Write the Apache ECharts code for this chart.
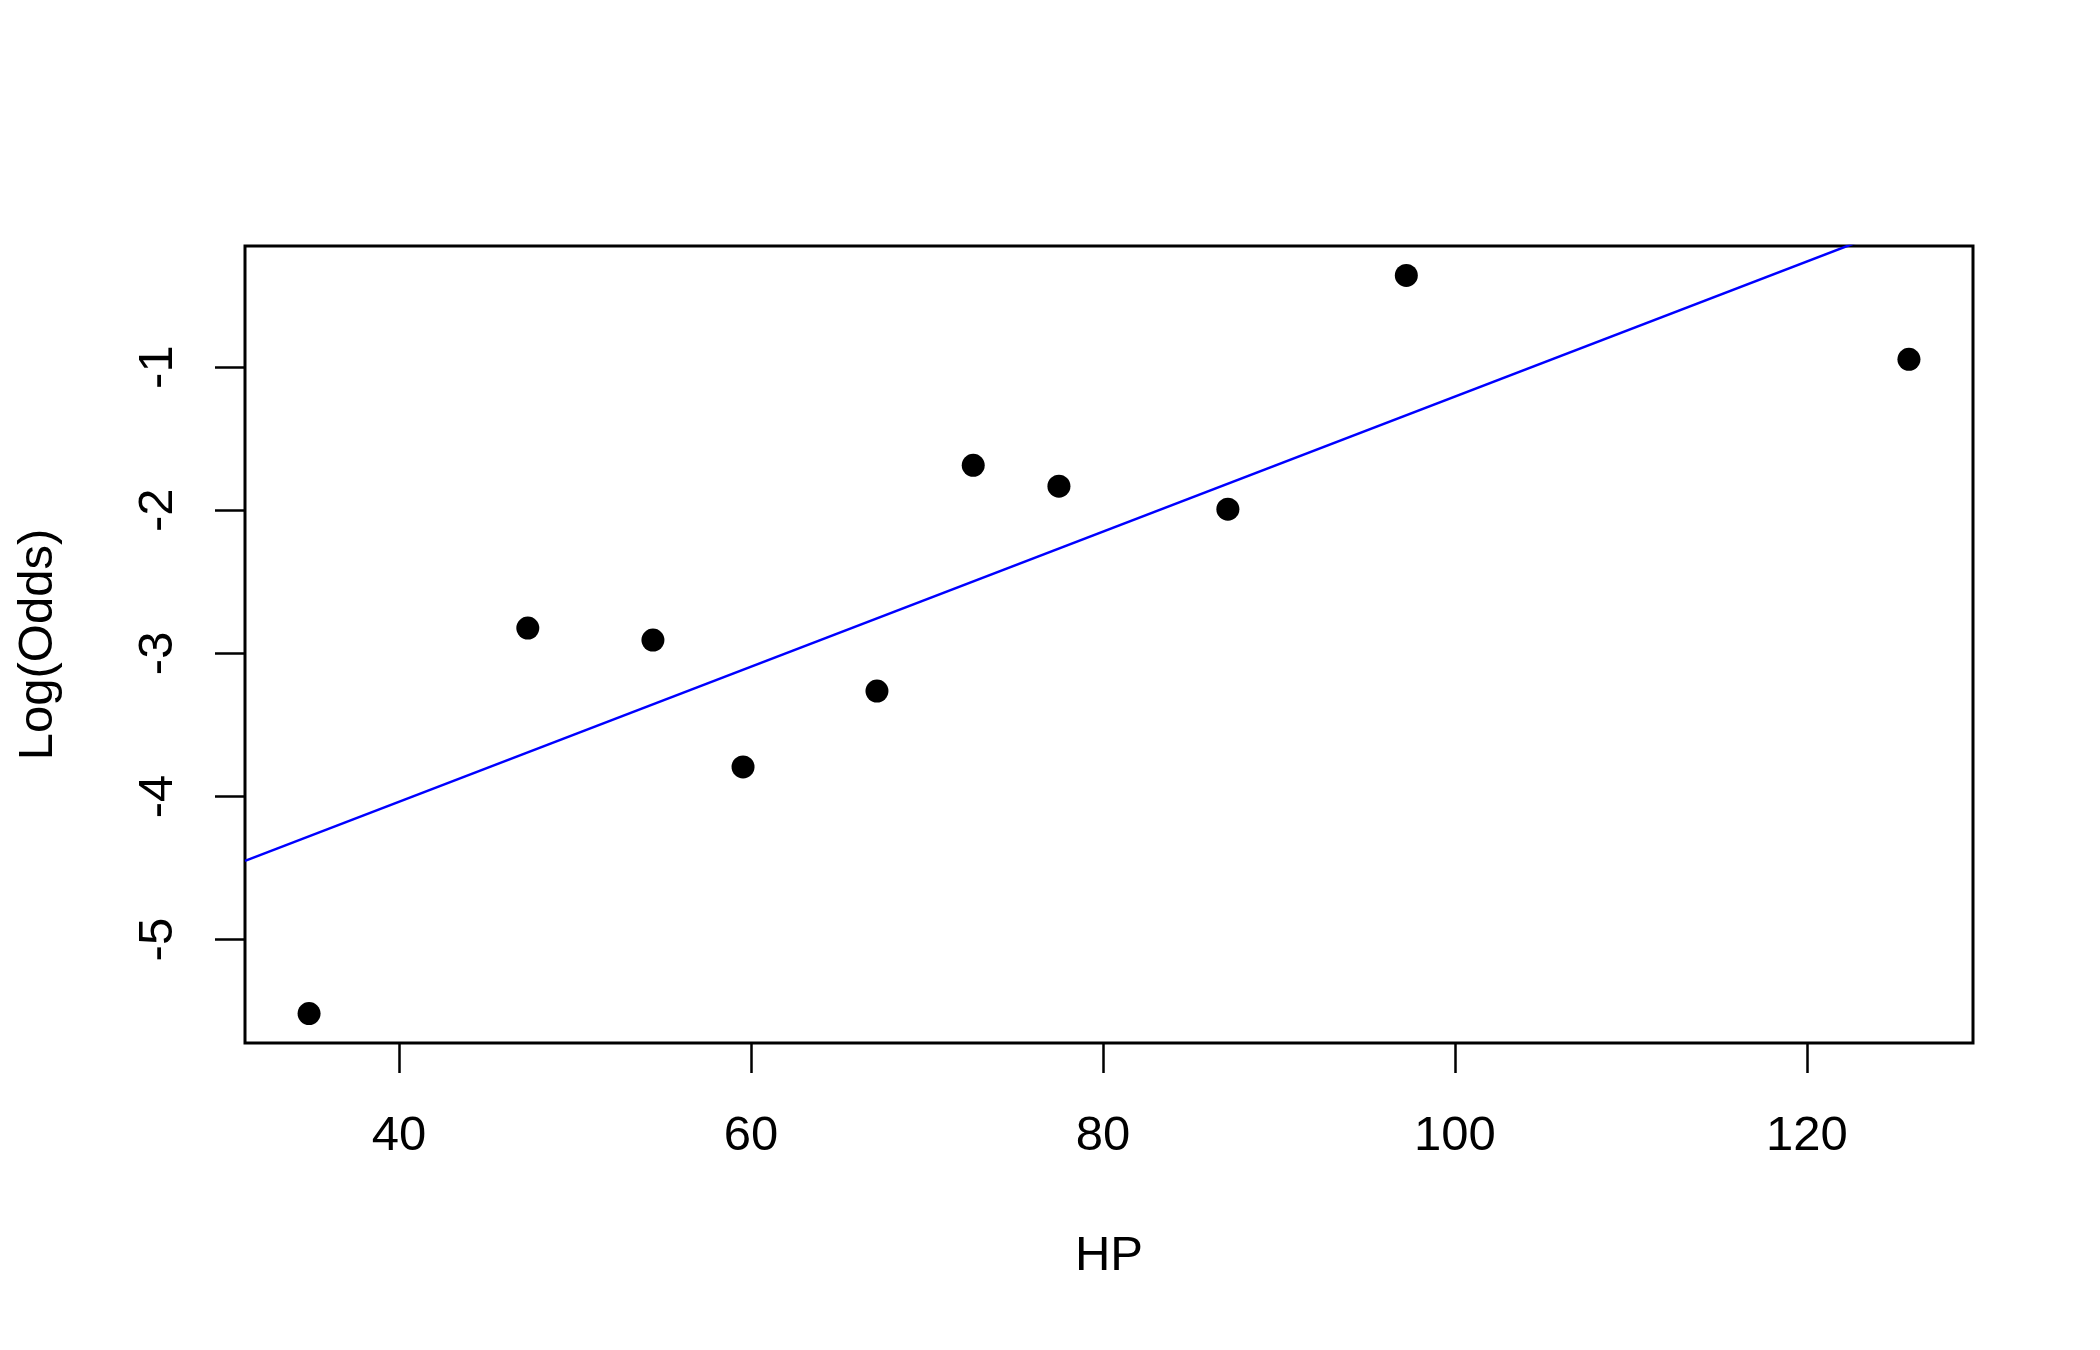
<!DOCTYPE html>
<html>
<head>
<meta charset="utf-8">
<script src="https://cdn.jsdelivr.net/npm/echarts@6/dist/echarts.min.js"></script>
<style>
html,body{margin:0;padding:0;background:#fff;}
#chart{width:2100px;height:1350px;}
</style>
</head>
<body>
<div id="chart"></div>
<script>
// Data
const hp = [34.89, 47.32, 54.43, 59.55, 67.16, 72.63, 77.5, 87.1, 97.24, 125.8];
const logOdds = [-5.516, -2.823, -2.907, -3.793, -3.263, -1.686, -1.832, -1.993, -0.360, -0.946];
// fitted line endpoints (x, y)
const fitX = [31.25, 129.44];
const fitY = [-4.45, 0.183];
const xTicks = [40, 60, 80, 100, 120];
const yTicks = [-5, -4, -3, -2, -1];
const xName = 'HP';
const yName = 'Log(Odds)';

const points = hp.map((x, i) => [x, logOdds[i]]);
const linePts = fitX.map((x, i) => [x, fitY[i]]);

const font = '"Liberation Sans", Arial, sans-serif';
const chart = echarts.init(document.getElementById('chart'));
chart.setOption({
  animation: false,
  backgroundColor: '#ffffff',
  grid: {
    left: 245, top: 246, width: 1728, height: 797,
    show: true, borderColor: '#000', borderWidth: 3, backgroundColor: 'transparent'
  },
  xAxis: {
    type: 'value', min: 31.25, max: 129.44,
    axisLine: { show: false },
    splitLine: { show: false },
    axisTick: { show: true, length: 30, lineStyle: { color: '#000', width: 2.5 }, customValues: xTicks },
    axisLabel: { customValues: xTicks, color: '#000', fontSize: 49, fontFamily: font, margin: 69 },
    name: xName, nameLocation: 'middle', nameGap: 189,
    nameTextStyle: { color: '#000', fontSize: 49, fontFamily: font }
  },
  yAxis: {
    type: 'value', min: -5.722, max: -0.154,
    axisLine: { show: false },
    splitLine: { show: false },
    axisTick: { show: true, length: 30, lineStyle: { color: '#000', width: 2.5 }, customValues: yTicks },
    axisLabel: { customValues: yTicks, rotate: 90, color: '#000', fontSize: 49, fontFamily: font, margin: 62 },
    name: yName, nameLocation: 'middle', nameGap: 182, nameRotate: 90,
    nameTextStyle: { color: '#000', fontSize: 49, fontFamily: font }
  },
  series: [
    {
      type: 'line', data: linePts, showSymbol: false, clip: true,
      lineStyle: { color: '#0000ff', width: 2.5 }, z: 2
    },
    {
      type: 'scatter', data: points, symbol: 'circle', symbolSize: 23,
      itemStyle: { color: '#000', opacity: 1 }, z: 3
    }
  ]
});
</script>
</body>
</html>
